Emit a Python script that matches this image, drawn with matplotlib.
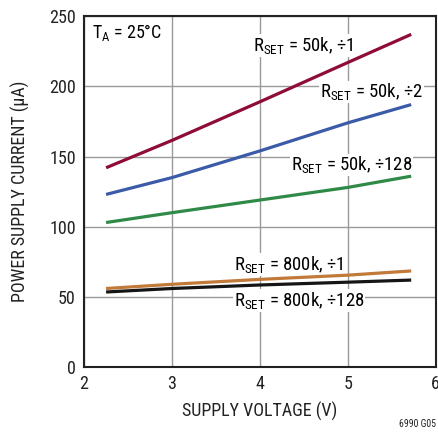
import numpy as np
import matplotlib.pyplot as plt

plt.rcParams['font.family'] = ['Roboto Condensed', 'Liberation Sans', 'DejaVu Sans']
plt.rcParams['mathtext.default'] = 'regular'

# Supply voltage (V) sample points
volts = [2.25, 3.0, 4.0, 5.0, 5.72]

# Power supply current (uA) for each setting
i_50k_div1 = [142, 161.5, 189, 217, 237]
i_50k_div2 = [123, 135, 154, 174, 187]
i_50k_div128 = [103, 110, 119, 128, 136]
i_800k_div1 = [56, 59, 62.5, 65.5, 68.5]
i_800k_div128 = [53.5, 56, 58.5, 60.5, 62]

series = [
    (i_50k_div1, '#8e0c36'),
    (i_50k_div2, '#3b5ba9'),
    (i_50k_div128, '#2f8a48'),
    (i_800k_div1, '#c27a3a'),
    (i_800k_div128, '#151515'),
]

labels = [
    (3.92, 229, r'R$_{SET}$ = 50k, ÷1'),
    (4.68, 196, r'R$_{SET}$ = 50k, ÷2'),
    (4.35, 144, r'R$_{SET}$ = 50k, ÷128'),
    (3.70, 73, r'R$_{SET}$ = 800k, ÷1'),
    (3.70, 47.5, r'R$_{SET}$ = 800k, ÷128'),
]

fig = plt.figure(figsize=(4.38, 4.36), dpi=100)
ax = fig.add_axes([0.192, 0.158, 0.803, 0.805])

for vals, col in series:
    ax.plot(volts, vals, color=col, lw=2.3, solid_capstyle='butt', zorder=3)

for x, y, s in labels:
    ax.text(x, y, s, fontsize=13.5, va='center', ha='left', zorder=2.5,
            bbox=dict(facecolor='white', edgecolor='none', pad=0.5))

ax.text(2.09, 238, r'T$_A$ = 25°C', fontsize=13, va='center', ha='left', zorder=4)

ax.set_xlim(2, 6)
ax.set_ylim(0, 250)
ax.set_xticks([2, 3, 4, 5, 6])
ax.set_yticks([0, 50, 100, 150, 200, 250])
ax.grid(True, color='#999999', lw=1.0)
ax.set_axisbelow(True)
ax.tick_params(length=0, labelsize=13, pad=6, colors='#222222')
for sp in ax.spines.values():
    sp.set_linewidth(1.5)
    sp.set_color('#222222')
    sp.set_zorder(4)

ax.set_xlabel('SUPPLY VOLTAGE (V)', fontsize=13, color='#222222', labelpad=6)
ax.set_ylabel('POWER SUPPLY CURRENT (µA)', fontsize=13, color='#222222', labelpad=14)

fig.text(0.995, 0.028, '6990 G05', fontsize=7, ha='right', va='center', color='#222222')

fig.savefig('out.png', dpi=100)
